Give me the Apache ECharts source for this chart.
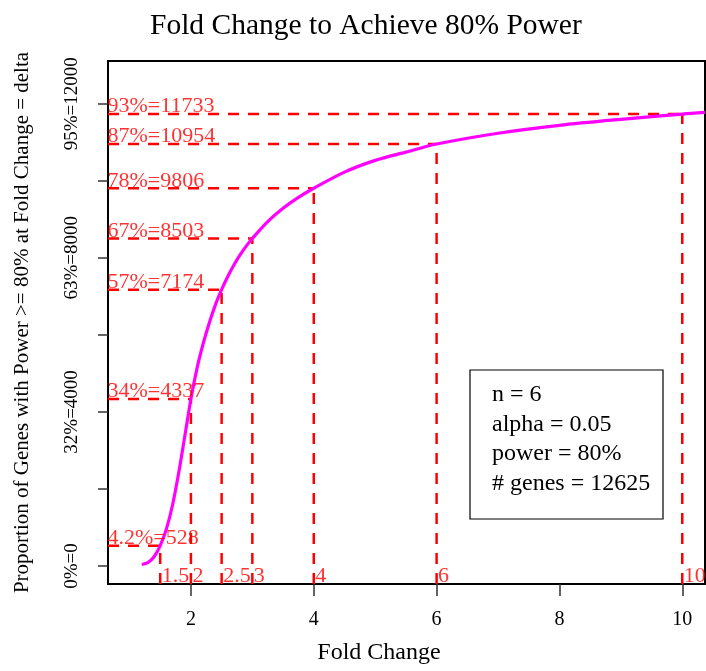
<!DOCTYPE html>
<html><head><meta charset="utf-8">
<script src="https://cdn.jsdelivr.net/npm/echarts@6/dist/echarts.min.js"></script>
<style>html,body{margin:0;padding:0;background:#fff}#c{width:706px;height:671px}</style>
</head><body><div id="c"></div>
<script>
// Curve: fold change vs number of genes with power >= 80%
const curveFold  = [1.2, 1.3, 1.4, 1.5, 1.6, 1.7, 1.8, 1.9, 2.0, 2.1, 2.2, 2.3, 2.4, 2.5, 2.6, 2.7, 2.8, 2.9, 3.0, 3.25, 3.5, 3.75, 4.0, 4.5, 5.0, 5.5, 6.0, 7.0, 8.0, 9.0, 10.0, 10.37];
const curveCount = [40, 90, 240, 528, 958, 1578, 2408, 3368, 4337, 5137, 5777, 6317, 6787, 7174, 7514, 7814, 8074, 8304, 8503, 8941, 9286, 9568, 9806, 10225, 10530, 10745, 10954, 11235, 11440, 11595, 11733, 11775];

// Marked reference points
const markFold = [1.5, 2, 2.5, 3, 4, 6, 10];
const markCount = [528, 4337, 7174, 8503, 9806, 10954, 11733];
const markPct = ['4.2%', '34%', '57%', '67%', '78%', '87%', '93%'];
const markFoldLabel = ['1.5', '2', '2.5', '3', '4', '6', '10'];

// Axes
const xTicks = [2, 4, 6, 8, 10];
const yTicks = [0, 2000, 4000, 6000, 8000, 10000, 12000];
const yLabelValues = [0, 4000, 8000, 12000];
const yLabelText = ['0%=0', '32%=4000', '63%=8000', '95%=12000'];
const xMin = 0.65, xMax = 10.37, yMin = -467, yMax = 13110;

const legendLines = ['n = 6', 'alpha = 0.05', 'power = 80%', '# genes = 12625'];

const FONT = 'Liberation Serif, Times New Roman, serif';
const RED = '#FF0000';

const chart = echarts.init(document.getElementById('c'), null, {renderer: 'canvas'});

const series = [];
const dash = {color: RED, width: 2.5, type: [11, 9]};
markFold.forEach((f, i) => {
  series.push({type: 'line', data: [[xMin, markCount[i]], [f, markCount[i]]], showSymbol: false, silent: true,
    lineStyle: dash, z: 3, animation: false});
  series.push({type: 'line', data: [[f, yMin], [f, markCount[i]]], showSymbol: false, silent: true,
    lineStyle: dash, z: 3, animation: false});
});
series.push({
  type: 'line', data: curveFold.map((f, i) => [f, curveCount[i]]), showSymbol: false, smooth: 0.3,
  lineStyle: {color: '#FF00FF', width: 3.2}, z: 4, animation: false
});
series.push({
  type: 'scatter', symbolSize: 1, itemStyle: {color: 'rgba(0,0,0,0)'}, z: 5, animation: false,
  data: markCount.map((c, i) => ({value: [xMin, c], name: markPct[i] + '=' + c})),
  label: {show: true, position: [0, -7], align: 'left', verticalAlign: 'middle',
    formatter: p => p.name, color: RED, fontSize: 22, fontFamily: FONT}
});
series.push({
  type: 'scatter', symbolSize: 1, itemStyle: {color: 'rgba(0,0,0,0)'}, z: 5, animation: false,
  data: markFold.map((f, i) => ({value: [f, yMin], name: markFoldLabel[i]})),
  label: {show: true, position: [2, -7], align: 'left', verticalAlign: 'middle',
    formatter: p => p.name, color: RED, fontSize: 22, fontFamily: FONT}
});

const lineY0 = 395, lineStep = 29.5;
const graphic = [
  {type: 'rect', shape: {x: 470, y: 370, width: 193, height: 149}, style: {fill: '#fff', stroke: '#000', lineWidth: 1.2}, z: 10}
].concat(legendLines.map((t, i) => ({
  type: 'text', x: 492, y: lineY0 + i * lineStep, z: 11,
  style: {text: t, font: '24px ' + FONT, fill: '#000', verticalAlign: 'middle', align: 'left'}
})));

chart.setOption({
  backgroundColor: '#fff',
  animation: false,
  title: {text: 'Fold Change to Achieve 80% Power', left: 145, top: 6,
    textStyle: {fontFamily: FONT, fontSize: 29.5, fontWeight: 'normal', color: '#000'}},
  grid: {left: 108, right: 1, top: 61, bottom: 87, show: true, borderColor: '#000', borderWidth: 2, containLabel: false},
  xAxis: {
    type: 'value', min: xMin, max: xMax,
    name: 'Fold Change', nameLocation: 'middle', nameGap: 57,
    nameTextStyle: {fontFamily: FONT, fontSize: 24, color: '#000', padding: [0, 55, 0, 0]},
    axisLine: {show: true, onZero: false, lineStyle: {color: '#000', width: 2}},
    axisTick: {show: true, customValues: xTicks, length: 12, lineStyle: {color: '#333', width: 1.5}},
    axisLabel: {show: true, customValues: xTicks, fontFamily: FONT, fontSize: 20, color: '#000', margin: 26},
    splitLine: {show: false}
  },
  yAxis: {
    type: 'value', min: yMin, max: yMax,
    name: 'Proportion of Genes with Power >= 80% at Fold Change = delta', nameLocation: 'middle', nameGap: 75,
    nameTextStyle: {fontFamily: FONT, fontSize: 21, color: '#000'},
    axisLine: {show: true, onZero: false, lineStyle: {color: '#000', width: 2}},
    axisTick: {show: true, customValues: yTicks, length: 10, lineStyle: {color: '#333', width: 1.5}},
    axisLabel: {show: true, customValues: yLabelValues, rotate: 90, fontFamily: FONT, fontSize: 19, color: '#000', margin: 26,
      formatter: v => yLabelText[yLabelValues.indexOf(v)]},
    splitLine: {show: false}
  },
  graphic: graphic,
  series: series
});
</script>
</body></html>
